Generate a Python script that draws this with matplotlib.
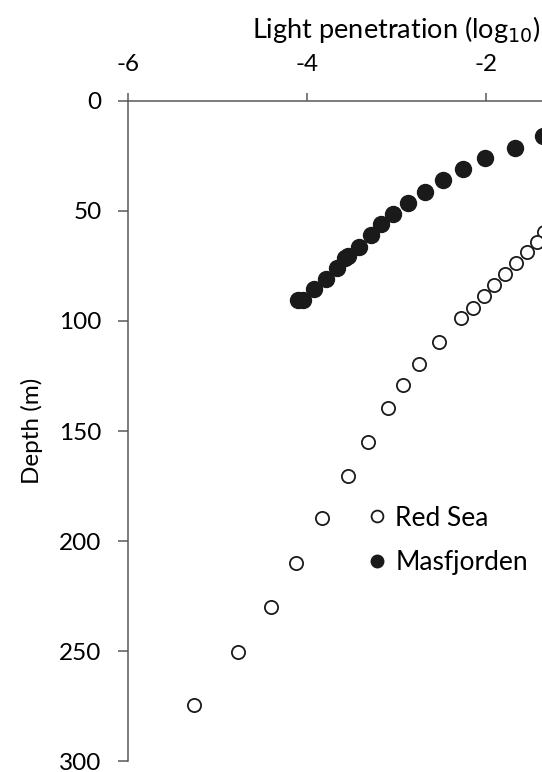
"""
Light penetration vs depth: Red Sea and Masfjorden.
"""
import matplotlib.pyplot as plt

plt.rcParams['font.family'] = ['Lato', 'DejaVu Sans']

# Masfjorden (filled)
mas_light = [-4.10, -4.04, -3.92, -3.79, -3.67, -3.58, -3.54, -3.42, -3.29, -3.17,
             -3.04, -2.87, -2.68, -2.48, -2.26, -2.01, -1.68, -1.36]
mas_depth = [90.5, 90.5, 85.6, 81.0, 76.0, 71.5, 70.5, 66.2, 61.0, 56.0,
             51.5, 46.2, 41.2, 36.0, 30.9, 26.0, 21.2, 15.9]

# Red Sea (open)
red_light = [-1.35, -1.43, -1.54, -1.67, -1.79, -1.91, -2.02, -2.14, -2.28, -2.53,
             -2.75, -2.93, -3.09, -3.32, -3.54, -3.83, -4.12, -4.40, -4.77, -5.26]
red_depth = [59.5, 64.0, 68.5, 73.5, 78.8, 83.6, 88.6, 94.0, 98.5, 109.7,
             119.5, 129.2, 139.4, 154.8, 170.3, 189.4, 210.1, 230.1, 250.3, 274.5]

XTICKS = [-6, -4, -2]
YTICKS = [0, 50, 100, 150, 200, 250, 300]

W, H = 542, 772
AX_GRAY = '#595959'
FS = 17.5


def main():
    fig = plt.figure(figsize=(W / 100, H / 100), dpi=100)
    # axes runs past the right edge of the figure (cropped chart)
    ax = fig.add_axes([128 / W, 11 / H, 537 / W, 660 / H])

    ax.plot(red_light, red_depth, 'o', ms=9.5, mfc='white', mec='#1a1a1a',
            mew=1.3, ls='none', label='Red Sea', clip_on=False)
    ax.plot(mas_light, mas_depth, 'o', ms=11.5, mfc='#1a1a1a', mec='#1a1a1a',
            ls='none', label='Masfjorden', clip_on=False)

    ax.set_xlim(-6, 0)
    ax.set_ylim(300, 0)
    ax.xaxis.set_ticks_position('top')
    ax.xaxis.set_label_position('top')
    ax.set_xticks(XTICKS)
    ax.set_yticks(YTICKS)
    ax.set_xticklabels([str(t) for t in XTICKS])

    for s in ['right', 'bottom']:
        ax.spines[s].set_visible(False)
    for s in ['top', 'left']:
        ax.spines[s].set_color(AX_GRAY)
        ax.spines[s].set_linewidth(1.1)

    ax.tick_params(axis='x', direction='out', length=6, width=1.1,
                   color=AX_GRAY, labelsize=FS, pad=13)
    ax.tick_params(axis='y', direction='out', length=7, width=1.1,
                   color=AX_GRAY, labelsize=FS, pad=12)

    ax.set_xlabel(r'Light penetration (log$_{10}$)', fontsize=19.5, labelpad=11)
    ax.set_ylabel('Depth (m)', fontsize=FS, labelpad=12)

    leg = ax.legend(loc='upper left', bbox_to_anchor=(353 / W, 1 - 495 / H),
                    bbox_transform=fig.transFigure, frameon=False,
                    fontsize=19, handletextpad=0.2, labelspacing=0.75,
                    handlelength=1.0, borderaxespad=0)
    leg.legend_handles[0].set_markersize(8.5)
    leg.legend_handles[1].set_markersize(9)

    fig.savefig('out.png', dpi=100)
    plt.close()


if __name__ == '__main__':
    main()
